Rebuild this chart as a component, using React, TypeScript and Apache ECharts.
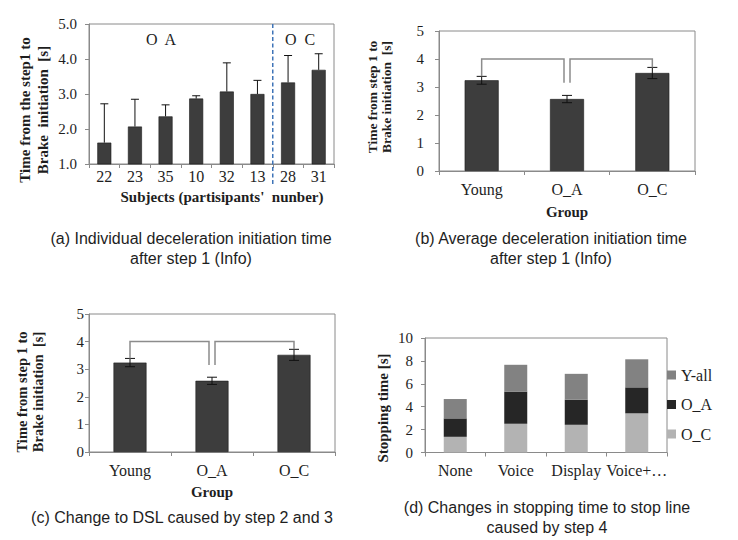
import React, { useEffect, useRef } from "react";
import * as echarts from "echarts";

// (a) individual deceleration initiation time after step 1
const subjects = ["22", "23", "35", "10", "32", "13", "28", "31"];
const subjectMeans = [1.61, 2.07, 2.36, 2.87, 3.07, 3.0, 3.33, 3.69];
const subjectErrTop = [2.72, 2.85, 2.69, 2.95, 3.89, 3.39, 4.1, 4.15];
const lastOAIndex = 5; // subjects 0..5 are O_A, the rest O_C

// (b) average deceleration initiation time after step 1
const groups = ["Young", "O_A", "O_C"];
const avgMeans = [3.24, 2.57, 3.5];
const avgErr = [0.14, 0.13, 0.2];

// (c) change to DSL caused by step 2 and 3
const dslMeans = [3.24, 2.58, 3.52];
const dslErr = [0.15, 0.13, 0.2];

// significance brackets between group pairs
const bracketPairs = [
  [0, 1],
  [1, 2],
];
const bracketLevel = 4.0;
const bracketInnerEnd = 3.15;

// (d) stopping time to stop line caused by step 4
const conditions = ["None", "Voice", "Display", "Voice+…"];
const stopOC = [1.37, 2.51, 2.42, 3.42];
const stopOA = [1.61, 2.81, 2.19, 2.27];
const stopYAll = [1.69, 2.34, 2.26, 2.45];

const SERIF = "'Liberation Serif', 'Times New Roman', serif";
const SANS = "'Liberation Sans', Arial, sans-serif";
const AXIS_GREY = "#8a8a8a";
const BAR_DARK = "#3d3d3d";
const TEXT = "#1e1e1e";

function catAxis(gridIndex: number, data: string[], fontSize: number, margin: number) {
  return {
    type: "category",
    gridIndex,
    data,
    axisLine: { show: true, lineStyle: { color: AXIS_GREY } },
    axisTick: { show: true, length: 4, lineStyle: { color: AXIS_GREY } },
    axisLabel: { fontFamily: SERIF, fontSize, color: TEXT, margin, interval: 0 },
  };
}

function valAxis(
  gridIndex: number,
  min: number,
  max: number,
  interval: number,
  fontSize: number,
  margin: number,
  decimals: number
) {
  return {
    type: "value",
    gridIndex,
    min,
    max,
    interval,
    splitLine: { show: false },
    axisLine: { show: true, lineStyle: { color: AXIS_GREY } },
    axisTick: { show: true, length: 4, lineStyle: { color: AXIS_GREY } },
    axisLabel: {
      fontFamily: SERIF,
      fontSize,
      color: TEXT,
      margin,
      formatter: (v: number) => v.toFixed(decimals),
    },
  };
}

function errorSeries(
  axisIndex: number,
  lows: number[],
  highs: number[],
  capHalf: number,
  lowerCap: boolean
) {
  return {
    type: "custom",
    xAxisIndex: axisIndex,
    yAxisIndex: axisIndex,
    z: 5,
    data: lows.map((lo, i) => [i, lo, highs[i]]),
    renderItem: (_params: any, api: any) => {
      const i = api.value(0);
      const lo = api.coord([i, api.value(1)]);
      const hi = api.coord([i, api.value(2)]);
      const style = { stroke: "#111", lineWidth: 1 };
      const children: any[] = [
        { type: "line", shape: { x1: hi[0], y1: lo[1], x2: hi[0], y2: hi[1] }, style },
        { type: "line", shape: { x1: hi[0] - capHalf, y1: hi[1], x2: hi[0] + capHalf, y2: hi[1] }, style },
      ];
      if (lowerCap) {
        children.push({
          type: "line",
          shape: { x1: lo[0] - capHalf, y1: lo[1], x2: lo[0] + capHalf, y2: lo[1] },
          style,
        });
      }
      return { type: "group", children };
    },
  };
}

function bracketSeries(axisIndex: number, means: number[], errs: number[]) {
  const legGap = 3;
  return {
    type: "custom",
    xAxisIndex: axisIndex,
    yAxisIndex: axisIndex,
    z: 6,
    clip: false,
    data: bracketPairs.map(([a, b], k) => [
      a,
      b,
      bracketLevel,
      k === 0 ? means[a] + errs[a] : bracketInnerEnd,
      k === bracketPairs.length - 1 ? means[b] + errs[b] : bracketInnerEnd,
    ]),
    renderItem: (params: any, api: any) => {
      const n = bracketPairs.length;
      const fromShift = params.dataIndex > 0 ? legGap : 0;
      const toShift = params.dataIndex < n - 1 ? -legGap : 0;
      const top1 = api.coord([api.value(0), api.value(2)]);
      const end1 = api.coord([api.value(0), api.value(3)]);
      const top2 = api.coord([api.value(1), api.value(2)]);
      const end2 = api.coord([api.value(1), api.value(4)]);
      const x1 = top1[0] + fromShift;
      const x2 = top2[0] + toShift;
      return {
        type: "polyline",
        shape: {
          points: [
            [x1, end1[1]],
            [x1, top1[1]],
            [x2, top2[1]],
            [x2, end2[1]],
          ],
        },
        style: { stroke: "#8c8c8c", lineWidth: 1.5, fill: "none" },
      };
    },
  };
}

function text(
  content: string,
  x: number,
  y: number,
  font: string,
  opts: { rotation?: number; lineHeight?: number; fill?: string } = {}
) {
  return {
    type: "text",
    x,
    y,
    rotation: opts.rotation || 0,
    style: {
      text: content,
      font,
      fill: opts.fill || TEXT,
      textAlign: "center",
      textVerticalAlign: "middle",
      lineHeight: opts.lineHeight,
    },
  };
}

export default function App() {
  const ref = useRef<HTMLDivElement>(null);

  useEffect(() => {
    if (!ref.current) return;
    const chart = echarts.init(ref.current, null, { renderer: "svg" });

    const option: any = {
      animation: false,
      backgroundColor: "#ffffff",
      grid: [
        { left: 89, top: 24, width: 245, height: 140, show: true, borderColor: AXIS_GREY, borderWidth: 1 },
        { left: 439, top: 31, width: 256, height: 140, show: true, borderColor: AXIS_GREY, borderWidth: 1 },
        { left: 89, top: 314, width: 246, height: 138, show: true, borderColor: AXIS_GREY, borderWidth: 1 },
        { left: 425, top: 338, width: 242, height: 114.5, show: true, borderColor: AXIS_GREY, borderWidth: 1 },
      ],
      xAxis: [
        catAxis(0, subjects, 16, 4),
        catAxis(1, groups, 16, 10),
        catAxis(2, groups, 16, 10),
        catAxis(3, conditions, 16, 10),
      ],
      yAxis: [
        valAxis(0, 1, 5, 1, 15, 12, 1),
        valAxis(1, 0, 5, 1, 15, 15, 0),
        valAxis(2, 0, 5, 1, 15, 5, 0),
        valAxis(3, 0, 10, 2, 15, 12, 0),
      ],
      legend: {
        orient: "vertical",
        left: 667,
        top: 367,
        padding: 0,
        itemWidth: 9,
        itemHeight: 9,
        itemGap: 13.5,
        icon: "rect",
        data: ["Y-all", "O_A", "O_C"],
        textStyle: { fontFamily: SERIF, fontSize: 16, color: TEXT, lineHeight: 15 },
      },
      series: [
        // (a)
        {
          type: "bar",
          xAxisIndex: 0,
          yAxisIndex: 0,
          data: subjectMeans,
          barWidth: 14,
          itemStyle: { color: BAR_DARK, borderColor: "#1c1c1c", borderWidth: 0.6 },
        },
        errorSeries(0, subjectMeans, subjectErrTop, 4, false),
        {
          // dashed divider between the O_A and O_C subjects
          type: "custom",
          xAxisIndex: 0,
          yAxisIndex: 0,
          clip: false,
          z: 7,
          data: [[lastOAIndex, 5]],
          renderItem: (_p: any, api: any) => {
            const i = api.value(0);
            const a = api.coord([i, 5]);
            const b = api.coord([i + 1, 1]);
            const x = (a[0] + b[0]) / 2;
            return {
              type: "line",
              shape: { x1: x, y1: a[1], x2: x, y2: b[1] + 20 },
              style: { stroke: "#3f74b8", lineWidth: 1.5, lineDash: [4, 2.5] },
            };
          },
        },
        // (b)
        {
          type: "bar",
          xAxisIndex: 1,
          yAxisIndex: 1,
          data: avgMeans,
          barWidth: 34,
          itemStyle: { color: BAR_DARK, borderColor: "#1c1c1c", borderWidth: 0.6 },
        },
        errorSeries(
          1,
          avgMeans.map((m, i) => m - avgErr[i]),
          avgMeans.map((m, i) => m + avgErr[i]),
          5,
          true
        ),
        bracketSeries(1, avgMeans, avgErr),
        // (c)
        {
          type: "bar",
          xAxisIndex: 2,
          yAxisIndex: 2,
          data: dslMeans,
          barWidth: 33,
          itemStyle: { color: BAR_DARK, borderColor: "#1c1c1c", borderWidth: 0.6 },
        },
        errorSeries(
          2,
          dslMeans.map((m, i) => m - dslErr[i]),
          dslMeans.map((m, i) => m + dslErr[i]),
          5,
          true
        ),
        bracketSeries(2, dslMeans, dslErr),
        // (d)
        {
          name: "O_C",
          type: "bar",
          stack: "stop",
          xAxisIndex: 3,
          yAxisIndex: 3,
          data: stopOC,
          barWidth: 23,
          itemStyle: { color: "#b3b3b3" },
        },
        {
          name: "O_A",
          type: "bar",
          stack: "stop",
          xAxisIndex: 3,
          yAxisIndex: 3,
          data: stopOA,
          barWidth: 23,
          itemStyle: { color: "#262626" },
        },
        {
          name: "Y-all",
          type: "bar",
          stack: "stop",
          xAxisIndex: 3,
          yAxisIndex: 3,
          data: stopYAll,
          barWidth: 23,
          itemStyle: { color: "#828282" },
        },
      ],
      graphic: [
        // group labels in (a)
        text("O  A", 161, 39, `16px ${SERIF}`),
        text("O  C", 300, 39, `16px ${SERIF}`),
        // axis titles
        text("Time from the step1 to\nBrake  initiation  [s]", 34, 110, `bold 15px ${SERIF}`, {
          rotation: Math.PI / 2,
          lineHeight: 18,
        }),
        text("Subjects (partisipants'  nunber)", 222, 197, `bold 15px ${SERIF}`),
        text("Time from step 1 to\nBrake initiation  [s]", 379, 97, `bold 13.5px ${SERIF}`, {
          rotation: Math.PI / 2,
          lineHeight: 14,
        }),
        text("Group", 567, 212, `bold 15px ${SERIF}`),
        text("Time from step 1 to\nBrake initiation  [s]", 30, 392, `bold 14.5px ${SERIF}`, {
          rotation: Math.PI / 2,
          lineHeight: 16,
        }),
        text("Group", 212, 492, `bold 15px ${SERIF}`),
        text("Stopping time [s]", 383, 408, `bold 15px ${SERIF}`, { rotation: Math.PI / 2 }),
        // captions
        text("(a) Individual deceleration initiation time\nafter step 1 (Info)", 191, 248, `16px ${SANS}`, {
          lineHeight: 20,
        }),
        text("(b) Average deceleration initiation time\nafter step 1 (Info)", 551, 248, `16px ${SANS}`, {
          lineHeight: 20,
        }),
        text("(c) Change to DSL caused by step 2 and 3", 182, 517, `16px ${SANS}`),
        text("(d) Changes in stopping time to stop line\ncaused by step 4", 547, 517, `16px ${SANS}`, {
          lineHeight: 20,
        }),
      ],
    };

    chart.setOption(option);
    return () => chart.dispose();
  }, []);

  return (
    <div
      ref={ref}
      style={{ position: "absolute", left: 0, top: 0, width: 738, height: 540, background: "#fff" }}
    />
  );
}
